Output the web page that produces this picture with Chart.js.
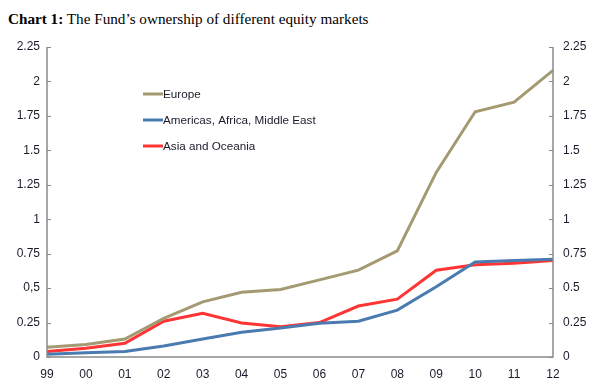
<!DOCTYPE html>
<html>
<head>
<meta charset="utf-8">
<script src="https://cdn.jsdelivr.net/npm/chart.js@4.4.1/dist/chart.umd.min.js"></script>
<style>
  html, body { margin: 0; padding: 0; background: #fff; }
  #wrap { position: relative; width: 600px; height: 392px; }
  #title { position: absolute; left: 8px; top: 10px; font-family: "Liberation Serif", "Times New Roman", serif; font-size: 15.2px; color: #000; white-space: nowrap; }
  canvas { position: absolute; left: 0; top: 0; }
</style>
</head>
<body>
<div id="wrap">
  <div id="title"><b>Chart 1:</b> The Fund’s ownership of different equity markets</div>
  <canvas id="c" width="600" height="392"></canvas>
</div>
<script>
const years = ['99','00','01','02','03','04','05','06','07','08','09','10','11','12'];
const europe   = [0.07, 0.09, 0.13, 0.28, 0.40, 0.47, 0.49, 0.56, 0.63, 0.77, 1.34, 1.78, 1.85, 2.08];
const americas = [0.02, 0.03, 0.04, 0.08, 0.13, 0.18, 0.21, 0.245, 0.26, 0.34, 0.51, 0.69, 0.70, 0.71];
const asia     = [0.04, 0.063, 0.10, 0.26, 0.317, 0.247, 0.22, 0.25, 0.37, 0.42, 0.63, 0.67, 0.68, 0.70];
const seriesNames = ['Europe', 'Americas, Africa, Middle East', 'Asia and Oceania'];
const leftTickLabels  = ['0','0.25','0,5','0.75','1','1.25','1.5','1.75','2','2.25'];
const rightTickLabels = ['0','0.25','0.5','0.75','1','1.25','1.5','1.75','2','2.25'];

const AXIS = '#8a8a8a';
const TEXT = '#1a1a2a';
const FONT = { family: 'Liberation Sans, Arial, sans-serif', size: 12 };

const frame = {
  id: 'frame',
  afterDatasetsDraw(chart) {
    const { ctx, chartArea: a, scales } = chart;
    ctx.save();
    ctx.strokeStyle = AXIS;
    ctx.lineWidth = 1.5;
    ctx.beginPath();
    ctx.moveTo(a.left, a.top); ctx.lineTo(a.left, a.bottom); ctx.lineTo(a.right, a.bottom); ctx.lineTo(a.right, a.top);
    ctx.stroke();
    ctx.lineWidth = 1;
    scales.y.ticks.forEach(t => {
      const py = Math.round(scales.y.getPixelForValue(t.value)) + 0.5;
      ctx.beginPath(); ctx.moveTo(a.left, py); ctx.lineTo(a.left + 4, py); ctx.stroke();
    });
    scales.y2.ticks.forEach(t => {
      const py = Math.round(scales.y2.getPixelForValue(t.value)) + 0.5;
      ctx.beginPath(); ctx.moveTo(a.right, py); ctx.lineTo(a.right - 4, py); ctx.stroke();
    });
    // legend
    const lx = 143, rows = [94, 120, 146];
    ctx.font = '11.7px "Liberation Sans", Arial, sans-serif';
    ctx.textBaseline = 'middle';
    chart.data.datasets.forEach((ds, i) => {
      ctx.strokeStyle = ds.borderColor; ctx.lineWidth = 3;
      ctx.beginPath(); ctx.moveTo(lx, rows[i]); ctx.lineTo(lx + 20, rows[i]); ctx.stroke();
      ctx.fillStyle = TEXT;
      ctx.fillText(ds.label, lx + 20, rows[i] + 0.5);
    });
    ctx.restore();
  }
};

new Chart(document.getElementById('c'), {
  type: 'line',
  data: {
    labels: years,
    datasets: [
      { label: seriesNames[0], data: europe,   borderColor: '#a39a72', yAxisID: 'y' },
      { label: seriesNames[1], data: americas, borderColor: '#4a7bb0', yAxisID: 'y' },
      { label: seriesNames[2], data: asia,     borderColor: '#ff3535', yAxisID: 'y' }
    ]
  },
  options: {
    responsive: false,
    animation: false,
    devicePixelRatio: 1,
    layout: { padding: { top: 47, left: 0, right: 0, bottom: 0 } },
    elements: { point: { radius: 0 }, line: { borderWidth: 3, tension: 0 } },
    plugins: { legend: { display: false }, tooltip: { enabled: false }, title: { display: false } },
    scales: {
      x: {
        offset: false,
        grid: { display: false, drawTicks: false },
        border: { display: false },
        ticks: { color: TEXT, font: FONT, padding: 10, maxRotation: 0, autoSkip: false },
        afterFit(s) { s.height = 35; }
      },
      y: {
        position: 'left', min: 0, max: 2.25,
        grid: { display: false, drawTicks: false },
        border: { display: false },
        ticks: { stepSize: 0.25, color: TEXT, font: FONT, padding: 7,
                 callback: (v, i) => leftTickLabels[i] },
        afterFit(s) { s.width = 47; }
      },
      y2: {
        position: 'right', min: 0, max: 2.25,
        grid: { display: false, drawTicks: false },
        border: { display: false },
        ticks: { stepSize: 0.25, color: TEXT, font: FONT, padding: 10,
                 callback: (v, i) => rightTickLabels[i] },
        afterFit(s) { s.width = 47; }
      }
    }
  },
  plugins: [frame]
});
</script>
</body>
</html>
